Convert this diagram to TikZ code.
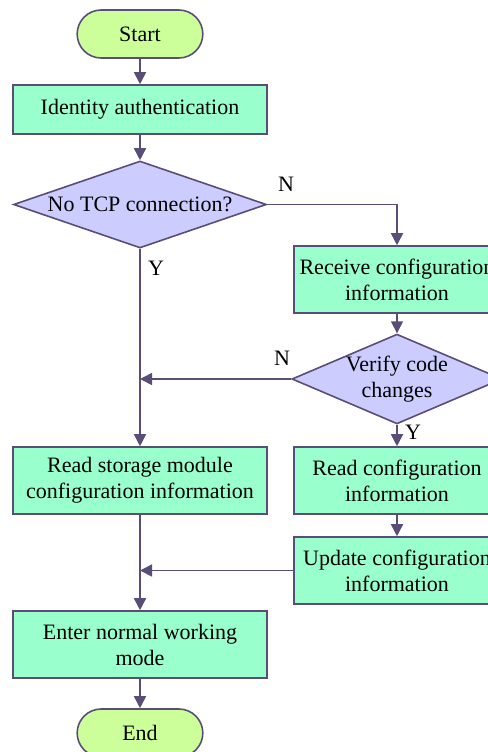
\documentclass[tikz,border=0pt]{standalone}
\usepackage{fontspec}
\setmainfont{Liberation Serif}
\usetikzlibrary{arrows.meta,shapes.geometric,shapes.misc}

\definecolor{linecol}{HTML}{5A4E78}
\definecolor{termfill}{HTML}{CCFF99}
\definecolor{procfill}{HTML}{99FFCC}
\definecolor{condfill}{HTML}{CCCCFF}

\begin{document}
\begin{tikzpicture}[x=0.5pt, y=-0.5pt,
    font=\fontsize{11}{13}\selectfont,
    term/.style={rounded rectangle, draw=linecol, fill=termfill, line width=0.8pt,
      minimum width=69.5pt, minimum height=24pt},
    proc/.style={rectangle, draw=linecol, fill=procfill, line width=0.8pt,
      align=center, inner sep=0pt, minimum width=127pt, minimum height=33.5pt},
    cond/.style={diamond, draw=linecol, fill=condfill, line width=0.8pt,
      align=center, inner sep=0pt},
    flow/.style={-{Triangle[length=6pt, width=6pt]}, draw=linecol, line width=0.8pt}]
    \useasboundingbox (0,0) rectangle (488,752);

    \node [term] (start) at (140, 34) {Start};
    \node [proc, minimum height=24.5pt] (ident) at (140, 109.5) {Identity authentication};
    \node [cond, aspect=2.9, minimum width=126.5pt, minimum height=43.5pt] (tcp) at (140, 204.5) {No TCP connection?};
    \node [proc, minimum width=103pt] (recv) at (397, 279.5) {Receive configuration\\information};
    \node [cond, aspect=2.34, minimum width=102pt, minimum height=44pt] (verify) at (397, 379) {Verify code\\changes};
    \node [proc, minimum width=103pt] (readcfg) at (397, 480.5) {Read configuration\\information};
    \node [proc, minimum width=103pt] (update) at (397, 570.5) {Update configuration\\information};
    \node [proc] (readsto) at (140, 480.5) {Read storage module\\configuration information};
    \node [proc] (enter) at (140, 644.5) {Enter normal working\\mode};
    \node [term] (end) at (140, 733) {End};

    \node (n1) at (286, 184) {N};
    \node (y1) at (156, 268) {Y};
    \node (n2) at (282, 358) {N};
    \node (y2) at (413, 432) {Y};

    \draw [flow] (start) -- (ident);
    \draw [flow] (ident) -- (tcp);
    \draw [flow] (tcp.east) -| (recv.north);
    \draw [flow] (tcp.south) -- (readsto.north);
    \draw [flow] (recv) -- (verify);
    \draw [flow] (verify.west) -- (verify.west -| tcp.south);
    \draw [flow] (verify.south) -- (readcfg.north);
    \draw [flow] (readcfg) -- (update);
    \draw [flow] (update.west) -- (update.west -| readsto.south);
    \draw [flow] (readsto) -- (enter);
    \draw [flow] (enter) -- (end);
  \end{tikzpicture}
\end{document}
